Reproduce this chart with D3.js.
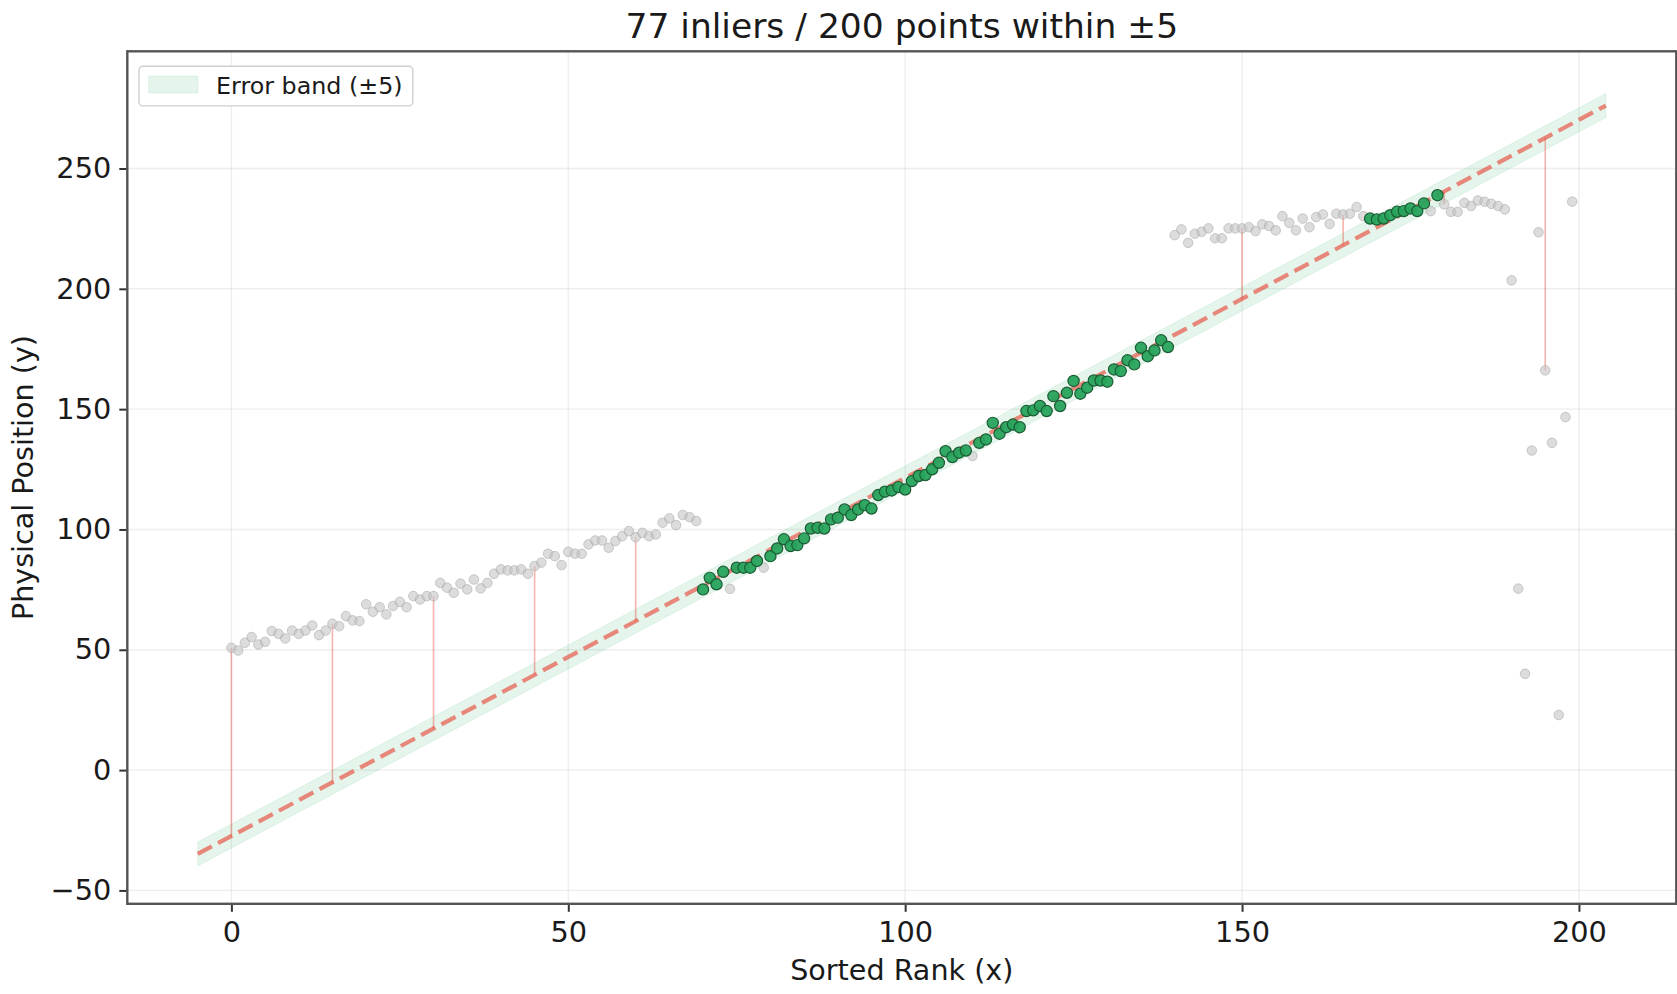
<!DOCTYPE html>
<html>
<head>
<meta charset="utf-8">
<script src="https://cdn.jsdelivr.net/npm/d3@7"></script>
<style>
  html, body { margin: 0; padding: 0; background: #fff; }
  svg { display: block; font-family: "DejaVu Sans", sans-serif; }
</style>
</head>
<body>
<svg id="chart" width="1677" height="994"></svg>
<script>
// Physical position of each point, indexed by sorted rank (0..199)
const position = [
  50.8, 49.7, 52.9, 55.3, 52.2, 53.3, 57.8, 56.6, 54.7, 58.0,
  56.6, 58.0, 60.1, 56.1, 58.0, 60.8, 59.8, 64.0, 62.2, 61.9,
  68.9, 65.8, 67.7, 64.7, 68.2, 69.9, 67.7, 72.3, 70.9, 72.3,
  72.3, 77.8, 75.8, 73.7, 77.5, 75.1, 79.2, 75.5, 77.8, 81.6,
  83.4, 83.0, 83.0, 83.4, 81.6, 84.8, 86.2, 89.9, 88.9, 85.2,
  90.7, 89.9, 89.9, 93.8, 95.4, 95.4, 92.4, 95.2, 97.2, 99.3,
  96.8, 98.6, 97.2, 97.9, 102.8, 104.6, 101.8, 106.0, 105.1, 103.5,
  75.1, 79.9, 77.2, 82.4, 75.3, 84.1, 84.1, 84.1, 86.9, 84.1,
  88.9, 92.1, 95.9, 93.1, 93.5, 96.3, 100.4, 100.7, 100.4, 104.2,
  104.9, 108.3, 106.0, 108.3, 110.1, 108.7, 114.3, 115.7, 116.2, 117.6,
  116.6, 120.1, 122.2, 122.6, 125.0, 127.7, 132.5, 130.1, 131.9, 132.8,
  130.5, 136.0, 137.4, 144.3, 139.8, 142.5, 143.6, 142.5, 149.2, 149.5,
  151.3, 149.2, 155.4, 151.3, 156.8, 161.7, 156.4, 158.9, 161.9, 161.9,
  161.4, 166.5, 165.8, 170.3, 168.6, 175.5, 172.0, 174.4, 178.6, 175.8,
  222.3, 224.7, 219.1, 222.9, 223.7, 225.1, 221.0, 221.0, 225.1, 225.1,
  225.1, 225.6, 224.0, 226.8, 226.1, 224.3, 230.2, 227.4, 224.3, 229.2,
  225.6, 229.8, 230.9, 227.0, 231.2, 230.9, 231.2, 234.0, 230.2, 229.2,
  228.8, 229.2, 230.6, 232.0, 232.3, 233.4, 232.3, 235.5, 232.3, 238.9,
  235.1, 232.0, 232.0, 235.7, 234.4, 236.7, 236.2, 235.3, 234.4, 233.0,
  203.5, 75.4, 40.0, 132.8, 223.5, 166.1, 136.0, 22.9, 146.7, 236.2
];

// Ranks accepted by the fit
const inlierRanks = [
  70, 71, 72, 73, 75, 76, 77, 78, 80, 81, 82, 83, 84, 85, 86, 87, 88, 89,
  90, 91, 92, 93, 94, 95, 96, 97, 98, 99, 100, 101, 102, 103, 104, 105, 106,
  107, 108, 109, 111, 112, 113, 114, 115, 116, 117, 118, 119, 120, 121, 122,
  123, 124, 125, 126, 127, 128, 129, 130, 131, 132, 133, 134, 135, 136, 137,
  138, 139, 169, 170, 171, 172, 173, 174, 175, 176, 177, 179
];

// Ranks whose residual to the fitted line is drawn
const residualRanks = [0, 15, 30, 45, 60, 75, 90, 105, 120, 135, 150, 165, 180, 195];

// Fitted line y = slope * x + intercept, drawn over this rank span
const fitSlope = 1.488;
const fitIntercept = -27.4;
const fitSpan = [-5, 204];
const tolerance = 5;

const xTicks = [0, 50, 100, 150, 200];
const yTicks = [-50, 0, 50, 100, 150, 200, 250];

const titleText = "77 inliers / 200 points within \u00b15";
const xLabel = "Sorted Rank (x)";
const yLabel = "Physical Position (y)";
const bandLabel = "Error band (\u00b15)";

// ---- layout ----
const plot = { left: 127.3, right: 1676.3, top: 51.3, bottom: 903.8 };
const svg = d3.select("#chart");

const x = d3.scaleLinear().domain([-15.45, 214.45]).range([plot.left, plot.right]);
const y = d3.scaleLinear().domain([-55.56, 298.7]).range([plot.bottom, plot.top]);

const fit = v => fitSlope * v + fitIntercept;
const points = position.map((p, i) => ({ rank: i, pos: p }));
const inlierSet = new Set(inlierRanks);

svg.append("defs").append("clipPath").attr("id", "plotclip")
  .append("rect")
  .attr("x", plot.left).attr("y", plot.top)
  .attr("width", plot.right - plot.left).attr("height", plot.bottom - plot.top);

const g = svg.append("g").attr("clip-path", "url(#plotclip)");

// grid
g.append("g").selectAll("line").data(xTicks).join("line")
  .attr("x1", d => x(d)).attr("x2", d => x(d))
  .attr("y1", plot.top).attr("y2", plot.bottom)
  .attr("stroke", "#b0b0b0").attr("stroke-opacity", 0.22).attr("stroke-width", 1.4);
g.append("g").selectAll("line").data(yTicks).join("line")
  .attr("x1", plot.left).attr("x2", plot.right)
  .attr("y1", d => y(d)).attr("y2", d => y(d))
  .attr("stroke", "#b0b0b0").attr("stroke-opacity", 0.22).attr("stroke-width", 1.4);

// error band around the fit
const band = d3.area()
  .x(d => x(d))
  .y0(d => y(fit(d) - tolerance))
  .y1(d => y(fit(d) + tolerance));
g.append("path").datum(fitSpan)
  .attr("d", band)
  .attr("fill", "#27ae60").attr("fill-opacity", 0.12)
  .attr("stroke", "#27ae60").attr("stroke-opacity", 0.1).attr("stroke-width", 1);

// residual segments
g.append("g").selectAll("line").data(residualRanks).join("line")
  .attr("x1", d => x(d)).attr("x2", d => x(d))
  .attr("y1", d => y(position[d])).attr("y2", d => y(fit(d)))
  .attr("stroke", "#e74c3c").attr("stroke-opacity", 0.42).attr("stroke-width", 1.6);

// fitted line
g.append("line")
  .attr("x1", x(fitSpan[0])).attr("y1", y(fit(fitSpan[0])))
  .attr("x2", x(fitSpan[1])).attr("y2", y(fit(fitSpan[1])))
  .attr("stroke", "#e74c3c").attr("stroke-opacity", 0.65)
  .attr("stroke-width", 4.2).attr("stroke-dasharray", "16,7");

// outliers
g.append("g").selectAll("circle").data(points.filter(d => !inlierSet.has(d.rank))).join("circle")
  .attr("cx", d => x(d.rank)).attr("cy", d => y(d.pos)).attr("r", 4.8)
  .attr("fill", "#c4c4c4").attr("fill-opacity", 0.6)
  .attr("stroke", "#9a9a9a").attr("stroke-opacity", 0.45).attr("stroke-width", 1);

// inliers
g.append("g").selectAll("circle").data(points.filter(d => inlierSet.has(d.rank))).join("circle")
  .attr("cx", d => x(d.rank)).attr("cy", d => y(d.pos)).attr("r", 5.6)
  .attr("fill", "#27a35c").attr("fill-opacity", 0.95)
  .attr("stroke", "#1a5c34").attr("stroke-width", 1.2);

// axes
const xAxis = svg.append("g")
  .attr("transform", `translate(0,${plot.bottom})`)
  .call(d3.axisBottom(x).tickValues(xTicks).tickSize(8).tickPadding(10).tickFormat(d3.format("d")));
const yAxis = svg.append("g")
  .attr("transform", `translate(${plot.left},0)`)
  .call(d3.axisLeft(y).tickValues(yTicks).tickSize(8).tickPadding(8)
    .tickFormat(d => d < 0 ? "\u2212" + Math.abs(d) : String(d)));

[xAxis, yAxis].forEach(a => {
  a.select(".domain").remove();
  a.selectAll(".tick line").attr("stroke", "#333").attr("stroke-width", 2);
  a.selectAll(".tick text")
    .attr("fill", "#1a1a1a")
    .style("font-family", "'DejaVu Sans', sans-serif")
    .style("font-size", "28.8px");
});

// spines
svg.append("rect")
  .attr("x", plot.left).attr("y", plot.top)
  .attr("width", plot.right - plot.left).attr("height", plot.bottom - plot.top)
  .attr("fill", "none").attr("stroke", "#555").attr("stroke-width", 2.4);

// title and axis labels
svg.append("text")
  .attr("x", (plot.left + plot.right) / 2).attr("y", 38)
  .attr("text-anchor", "middle")
  .attr("fill", "#1a1a1a")
  .style("font-size", "34.5px")
  .text(titleText);

svg.append("text")
  .attr("x", (plot.left + plot.right) / 2).attr("y", 980)
  .attr("text-anchor", "middle")
  .attr("fill", "#1a1a1a")
  .style("font-size", "28.6px")
  .text(xLabel);

svg.append("text")
  .attr("transform", `translate(33,${(plot.top + plot.bottom) / 2}) rotate(-90)`)
  .attr("text-anchor", "middle")
  .attr("fill", "#1a1a1a")
  .style("font-size", "28.6px")
  .text(yLabel);

// legend
const legend = svg.append("g");
legend.append("rect")
  .attr("x", 139).attr("y", 66.3).attr("width", 273.8).attr("height", 39.6)
  .attr("rx", 4).attr("ry", 4)
  .attr("fill", "#fff").attr("fill-opacity", 0.85)
  .attr("stroke", "#cfcfcf").attr("stroke-width", 1.4);
legend.append("rect")
  .attr("x", 148.7).attr("y", 76).attr("width", 49.2).attr("height", 17)
  .attr("fill", "#27ae60").attr("fill-opacity", 0.12)
  .attr("stroke", "#27ae60").attr("stroke-opacity", 0.1);
legend.append("text")
  .attr("x", 216).attr("y", 93.5)
  .attr("fill", "#1a1a1a")
  .style("font-size", "23.8px")
  .text(bandLabel);
</script>
</body>
</html>
